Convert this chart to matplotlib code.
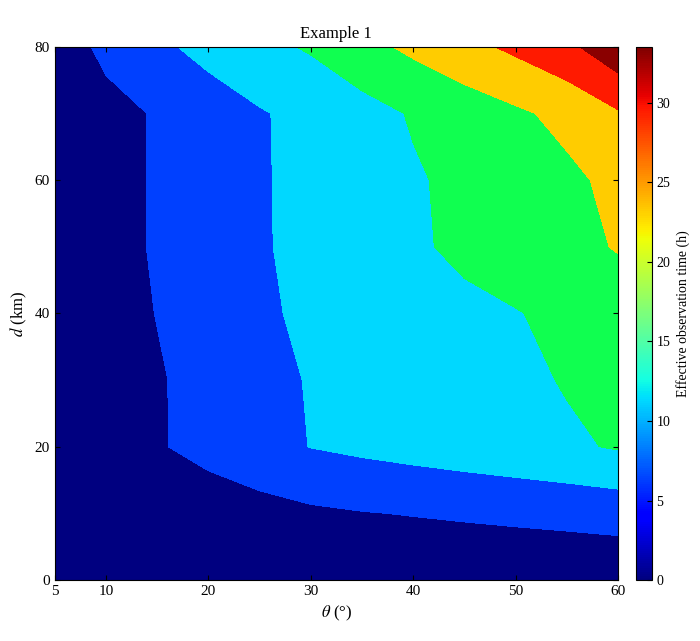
import numpy as np
import matplotlib
matplotlib.use("Agg")
import matplotlib.pyplot as plt
from matplotlib.cm import ScalarMappable
from matplotlib.colors import Normalize

plt.rcParams['font.family'] = ['Liberation Serif', 'DejaVu Serif']
plt.rcParams['mathtext.fontset'] = 'stix'

theta = [5, 10, 15, 20, 25, 30, 35, 40, 45, 50, 55, 60]
d = [0, 10, 20, 30, 40, 50, 60, 70, 80]
z_d0  = [0.1, 0.2, 0.3, 0.4, 0.5, 0.6, 0.7, 0.8, 0.9, 1.0, 1.1, 1.2]
z_d10 = [0.5, 1.2, 1.8, 2.5, 3.3, 4.2, 4.8, 5.2, 5.6, 6.0, 6.4, 6.9]
z_d20 = [1.0, 2.8, 4.6, 6.4, 8.3, 10.1, 11.0, 11.8, 12.6, 13.4, 14.3, 15.4]
z_d30 = [1.0, 2.8, 4.6, 6.5, 8.5, 10.3, 11.4, 12.3, 13.2, 14.0, 15.3, 16.5]
z_d40 = [1.0, 3.2, 5.1, 7.2, 9.4, 10.7, 11.8, 12.9, 13.9, 14.8, 16.0, 17.5]
z_d50 = [1.0, 3.5, 5.4, 7.5, 9.6, 11.1, 12.6, 14.3, 16.0, 17.2, 18.6, 20.3]
z_d60 = [1.0, 3.5, 5.4, 7.5, 9.6, 11.2, 12.9, 14.5, 16.1, 17.5, 19.0, 21.2]
z_d70 = [1.0, 3.4, 5.4, 7.5, 9.6, 11.4, 13.2, 15.4, 17.3, 19.2, 21.3, 24.5]
z_d80 = [2.0, 6.2, 9.0, 11.5, 13.7, 15.5, 18.5, 21.0, 23.5, 26.0, 28.8, 33.5]
Z = np.array([z_d0, z_d10, z_d20, z_d30, z_d40, z_d50, z_d60, z_d70, z_d80])
levels = [0, 5, 10, 15, 20, 25, 30, 35]
fill_colors = ['#000080', '#0040ff', '#00d8ff', '#10ff50', '#ffcc00', '#ff1a00', '#8a0000']
cticks = [0, 5, 10, 15, 20, 25, 30]

fig = plt.figure(figsize=(7, 6.41), dpi=100)
ax = fig.add_axes([0.078, 0.095, 0.805, 0.832])
norm = Normalize(vmin=0, vmax=33.5)
ax.contourf(theta, d, Z, levels=levels, colors=fill_colors)
ax.set_xlim(5, 60)
ax.set_ylim(0, 80)
ax.set_xticks([5, 10, 20, 30, 40, 50, 60])
ax.set_yticks([0, 20, 40, 60, 80])
ax.tick_params(direction='in', labelsize=11, top=True, right=True)
ax.set_xlabel(r'$\theta$ (°)', fontsize=12)
ax.set_ylabel(r'$d$ (km)', fontsize=12)
ax.set_title('Example 1', fontsize=12)

cax = fig.add_axes([0.909, 0.095, 0.022, 0.832])
cb = fig.colorbar(ScalarMappable(norm=norm, cmap='jet'), cax=cax, ticks=cticks)
cb.ax.tick_params(labelsize=10, direction='in')
cb.set_label('Effective observation time (h)', fontsize=10)
fig.savefig('out.png')
